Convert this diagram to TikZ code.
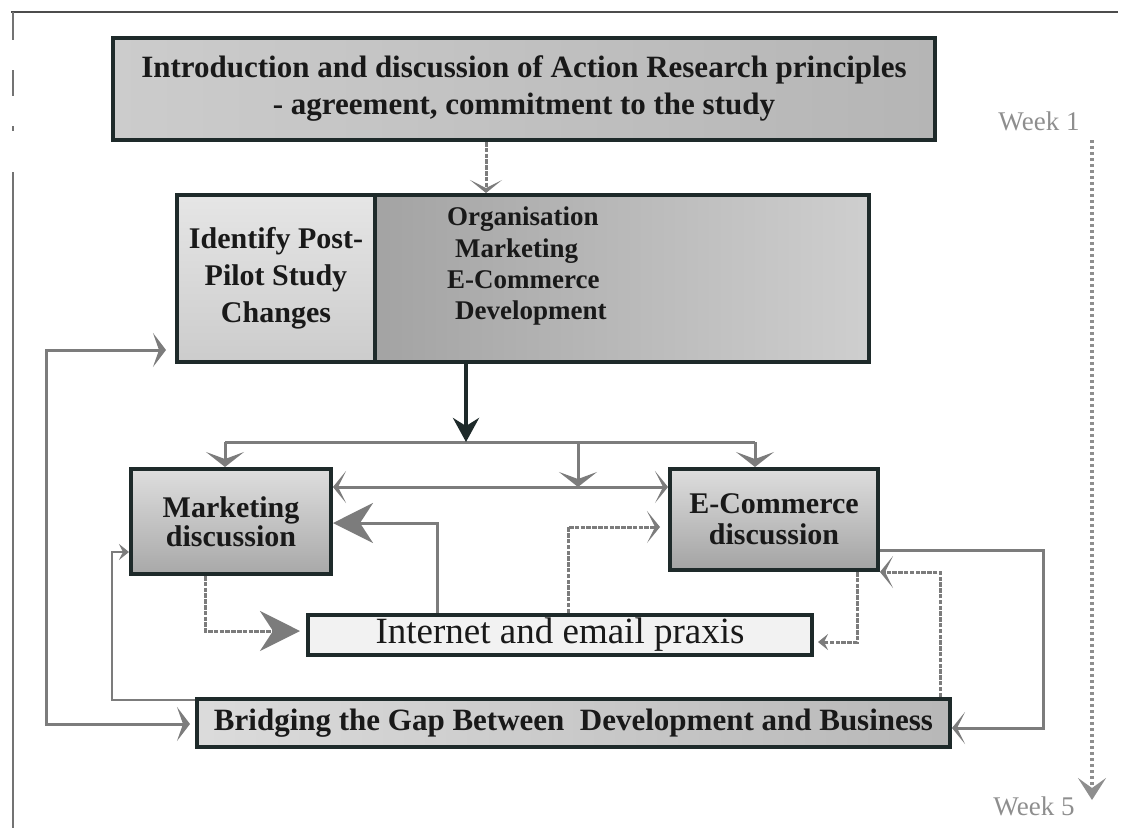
\documentclass[tikz,border=0pt]{standalone}
\usepackage{fontspec}
\setmainfont{Liberation Serif}
\usetikzlibrary{arrows.meta,calc}
\definecolor{edge}{HTML}{1E2A2A}
\definecolor{link}{HTML}{7C7C7C}
\definecolor{weekgray}{HTML}{8E8E8E}
\tikzset{
  BigHead/.tip={Stealth[length=40pt,width=40pt,inset=13pt]},
  DropHead/.tip={Stealth[length=15pt,width=38pt,inset=7pt]},
  ChevHead/.tip={Stealth[length=13pt,width=32pt,inset=8pt]},
  DarkHead/.tip={Stealth[length=24pt,width=26pt,inset=8pt]},
  SideHead/.tip={Stealth[length=13pt,width=34pt,inset=6pt]},
  SmallHead/.tip={Stealth[length=10pt,width=16pt,inset=4pt]},
  WeekHead/.tip={Stealth[length=22pt,width=28pt,inset=10pt]},
}
\begin{document}
\begin{tikzpicture}[x=1pt,y=-1pt,
  box/.style={draw=edge, line width=4pt, inner sep=0pt, anchor=north west,
    text=black!90, align=center, font=\bfseries\fontsize{30}{37}\selectfont},
  conn/.style={draw=link, line width=3pt},
  dconn/.style={conn, dash pattern=on 4.5pt off 1.3pt},
  thinconn/.style={draw=link, line width=2pt},
  darkline/.style={draw=edge, line width=4pt},
  weekline/.style={draw=weekgray, line width=4pt, dash pattern=on 3pt off 3pt},
  weektext/.style={text=weekgray, font=\fontsize{27}{27}\selectfont, inner sep=0pt},
]
\useasboundingbox (0,0) rectangle (1121,828);

% page frame
\draw[black!70, line width=1.5pt] (11,12) -- (1118,12);
\draw[black!55, line width=2pt] (13,12) -- (13,40) (13,70) -- (13,96)
  (13,126) -- (13,131) (13,172) -- (13,828);

% boxes
\node[box, minimum width=822pt, minimum height=102pt, left color=black!20, right color=black!29,
  font=\bfseries\fontsize{31}{37}\selectfont]
  (intro) at (111,36) {Introduction and discussion of Action Research principles\\- agreement, commitment to the study};
\node[box, minimum width=198pt, minimum height=167pt, top color=black!10, bottom color=black!20]
  (ident) at (175,193) {Identify Post-\\Pilot Study\\Changes};
\node[box, minimum width=494pt, minimum height=167pt, left color=black!36, right color=black!19]
  (areas) at (373,193) {};
\node[anchor=west, align=left, inner sep=0pt, text=black!90, font=\bfseries\fontsize{27}{31}\selectfont]
  (arealist) at (447,266) {Organisation\\\hspace*{8pt}Marketing\\E-Commerce\\\hspace*{8pt}Development};
\node[box, minimum width=200pt, minimum height=105pt, top color=black!13, bottom color=black!34,
  font=\bfseries\fontsize{30}{29}\selectfont]
  (mkt) at (129,467) {Marketing\\discussion};
\node[box, minimum width=208pt, minimum height=101pt, top color=black!13, bottom color=black!36,
  font=\bfseries\fontsize{30}{31}\selectfont]
  (ecom) at (668,467) {E-Commerce\\discussion};
\node[box, minimum width=504pt, minimum height=40pt, fill=black!5, font=\fontsize{37}{40}\selectfont]
  (inet) at (306,613) {Internet and email praxis};
\node[box, minimum width=753pt, minimum height=48pt, left color=black!14, right color=black!28,
  font=\bfseries\fontsize{31}{37}\selectfont]
  (bridge) at (195,697) {Bridging the Gap Between\hspace{0.5em}Development and Business};

% week scale
\node[weektext] (wk1) at (1039,121) {Week 1};
\node[weektext] (wk5) at (1034,806) {Week 5};
\coordinate (wtop) at (1092,140);
\coordinate (wbot) at (1092,800);
\draw[weekline, -{WeekHead}] (wtop) -- (wbot);

% routing points
\coordinate (j0) at (486,0);
\coordinate (split) at (466,442);
\coordinate (dl) at (225,442);
\coordinate (dr) at (755,442);
\coordinate (dm) at (578,442);
\coordinate (mid) at (578,487);
\coordinate (ia) at (437,523);
\coordinate (mb) at (205,631);
\coordinate (ib) at (568,527);
\coordinate (eb) at (857,642);
\coordinate (er) at (1043,550);
\coordinate (er2) at (1043,728);
\coordinate (bu) at (940,572);
\coordinate (bl) at (112,700);
\coordinate (ml) at (112,552);
\coordinate (ll1) at (46,350);
\coordinate (ll2) at (46,724);

% connectors
\draw[dconn, -{ChevHead}] (intro.south -| j0) -- (areas.north -| j0);
\draw[conn] (dl) -- (dr);
\draw[darkline, -{DarkHead}] (areas.south -| split) -- (split);
\draw[conn, -{DropHead}] (dl) -- (mkt.north -| dl);
\draw[conn, -{DropHead}] (dr) -- (ecom.north -| dr);
\draw[conn, -{DropHead}] (dm) -- (mid);
\draw[conn, {ChevHead}-{ChevHead}] (mkt.east |- mid) -- (ecom.west |- mid);
\draw[conn, -{BigHead}] (inet.north -| ia) -- (ia) -- (mkt.east |- ia);
\draw[dconn, -{BigHead}, shorten >=6pt] (mkt.south -| mb) -- (mb) -- (inet.west |- mb);
\draw[dconn, -{ChevHead}, shorten >=8pt] (inet.north -| ib) -- (ib) -- (ecom.west |- ib);
\draw[dconn, -{SmallHead}, shorten >=4pt] (ecom.south -| eb) -- (eb) -- (inet.east |- eb);
\draw[conn, -{ChevHead}] (ecom.east |- er) -- (er) -- (er2) -- (bridge.east |- er2);
\draw[dconn, -{ChevHead}] (bridge.north -| bu) -- (bu) -- (ecom.east |- bu);
\draw[thinconn, -{SmallHead}] (bridge.west |- bl) -- (bl) -- (ml) -- (mkt.west |- ml);
\draw[conn, {SideHead}-{SideHead}, shorten <=9pt, shorten >=5pt]
  (ident.west |- ll1) -- (ll1) -- (ll2) -- (bridge.west |- ll2);
\end{tikzpicture}
\end{document}
